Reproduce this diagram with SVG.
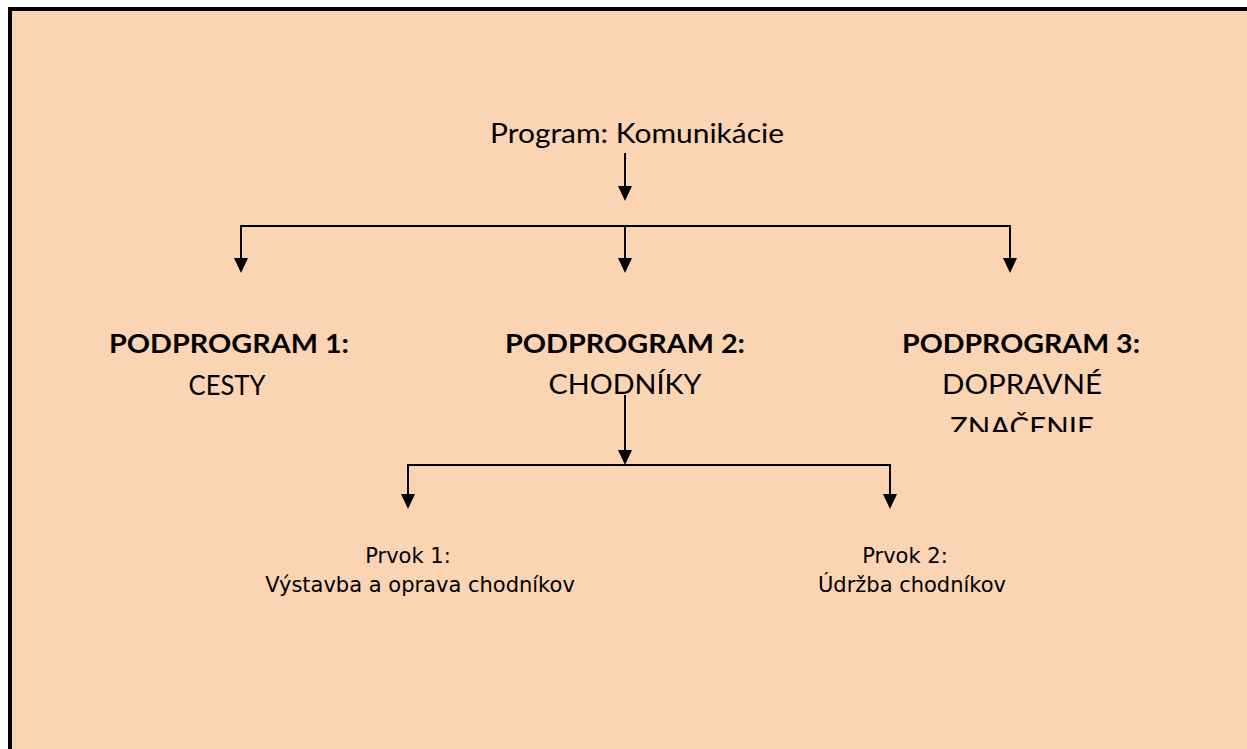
<svg xmlns="http://www.w3.org/2000/svg" width="1247" height="749" viewBox="0 0 1247 749">
<defs>
<style>
.h{font-family:Lato,"Liberation Sans",sans-serif;font-size:27px;fill:#000;text-anchor:middle}
.b{font-weight:bold}
.s{font-family:"DejaVu Sans","Liberation Sans",sans-serif;font-size:21px;fill:#000;text-anchor:middle}
.c{stroke:#000;stroke-width:2;fill:none}
</style>
<marker id="ah" markerWidth="14" markerHeight="15" refX="7" refY="15" orient="auto-start-reverse" markerUnits="userSpaceOnUse" viewBox="0 0 14 15">
<path d="M0,0 L14,0 L7,15 Z" fill="#000"/>
</marker>
<clipPath id="clip3"><rect x="880" y="300" width="300" height="132"/></clipPath>
</defs>
<rect x="0" y="0" width="1247" height="749" fill="#fff"/>
<rect x="8" y="7" width="1239" height="742" fill="#000"/>
<rect x="12" y="11" width="1235" height="738" fill="#FBD4B4"/>

<g id="connectors">
<path class="c" d="M625,153 V187" />
<path d="M618,186 L632,186 L625,201 Z" fill="#000"/>
<path class="c" d="M241,258 V226 H1010 V258"/>
<path class="c" d="M625,226 V258"/>
<path d="M234,258 L248,258 L241,273 Z" fill="#000"/>
<path d="M618,258 L632,258 L625,273 Z" fill="#000"/>
<path d="M1003,258 L1017,258 L1010,273 Z" fill="#000"/>
<path class="c" d="M625,395 V451"/>
<path d="M618,450 L632,450 L625,465 Z" fill="#000"/>
<path class="c" d="M408,495 V465 H890 V495"/>
<path d="M401,494 L415,494 L408,509 Z" fill="#000"/>
<path d="M883,494 L897,494 L890,509 Z" fill="#000"/>
</g>

<g id="program">
<text class="h" x="637" y="143" textLength="294" lengthAdjust="spacingAndGlyphs">Program: Komunikácie</text>
</g>
<g id="podprogram1">
<text class="h b" x="229" y="353" textLength="240" lengthAdjust="spacingAndGlyphs">PODPROGRAM 1:</text>
<text class="h" x="227" y="395" textLength="77" lengthAdjust="spacingAndGlyphs">CESTY</text>
</g>
<g id="podprogram2">
<text class="h b" x="625" y="353" textLength="240" lengthAdjust="spacingAndGlyphs">PODPROGRAM 2:</text>
<text class="h" x="625" y="394" textLength="153" lengthAdjust="spacingAndGlyphs">CHODNÍKY</text>
</g>
<g id="podprogram3" clip-path="url(#clip3)">
<text class="h b" x="1021" y="353" textLength="238" lengthAdjust="spacingAndGlyphs">PODPROGRAM 3:</text>
<text class="h" x="1022" y="394" textLength="160" lengthAdjust="spacingAndGlyphs">DOPRAVNÉ</text>
<text class="h" x="1022" y="437" textLength="144" lengthAdjust="spacingAndGlyphs">ZNAČENIE</text>
</g>
<g id="prvok1">
<text class="s" x="408" y="563">Prvok 1:</text>
<text class="s" x="420" y="592">Výstavba a oprava chodníkov</text>
</g>
<g id="prvok2">
<text class="s" x="905" y="563">Prvok 2:</text>
<text class="s" x="912" y="592">Údržba chodníkov</text>
</g>
</svg>
